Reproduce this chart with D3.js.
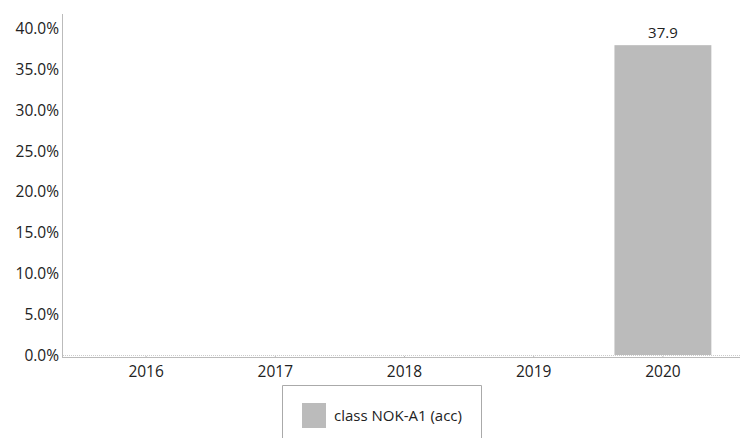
<!DOCTYPE html>
<html><head><meta charset="utf-8">
<script src="https://cdn.jsdelivr.net/npm/d3@7"></script>
<style>body{margin:0;background:#fff}svg{display:block}text{font-family:"Open Sans","Noto Sans",sans-serif;fill:#222}</style>
</head><body><svg id="c" width="742" height="438"></svg>
<script>
const categories = ["2016","2017","2018","2019","2020"];
const values = [null,null,null,null,37.9];
const yTicks = [0,5,10,15,20,25,30,35,40];
const seriesName = "class NOK-A1 (acc)";

const svg = d3.select("#c");
const x = d3.scaleBand().domain(categories).range([81.5,727.5]).paddingInner(0.25).paddingOuter(0.125);
const y = d3.scaleLinear().domain([0,40]).range([355,28]);

// y axis
const ya = svg.append("g").attr("transform","translate(62,0)")
  .call(d3.axisLeft(y).tickValues(yTicks).tickSize(0).tickPadding(3).tickFormat(d=>d.toFixed(1)+"%"));
ya.select(".domain").remove();
ya.selectAll("text").style("font-size","15.5px").attr("fill","#222").attr("dy","0.35em");
svg.append("line").attr("x1",62.5).attr("x2",62.5).attr("y1",14).attr("y2",358).attr("stroke","#bbb");

// zero dotted line
svg.append("line").attr("x1",63).attr("x2",740).attr("y1",y(0)+0.5).attr("y2",y(0)+0.5)
  .attr("stroke","#ccc").attr("stroke-dasharray","1,1");

// bars
const data = categories.map((c,i)=>({c,v:values[i]})).filter(d=>d.v!=null);
svg.selectAll("rect.bar").data(data).join("rect").attr("class","bar")
  .attr("x",d=>x(d.c)).attr("width",x.bandwidth())
  .attr("y",d=>y(d.v)).attr("height",d=>y(0)-y(d.v)).attr("fill","#bbbbbb");
svg.selectAll("text.lbl").data(data).join("text").attr("class","lbl")
  .attr("x",d=>x(d.c)+x.bandwidth()/2).attr("y",d=>y(d.v)-7)
  .attr("text-anchor","middle").style("font-size","15px").text(d=>d.v.toFixed(1));

// x axis
const xa = svg.append("g").attr("transform","translate(0,358)")
  .call(d3.axisBottom(x).tickSize(2).tickPadding(6));
xa.select(".domain").remove();
xa.selectAll("line").attr("stroke","#bbb").attr("transform","translate(0,-2)");
xa.selectAll("text").style("font-size","15.5px").attr("fill","#222");
svg.append("line").attr("x1",62).attr("x2",740).attr("y1",357.5).attr("y2",357.5).attr("stroke","#bbb");

// legend
svg.append("path").attr("d","M282.5,438 V385.5 H481.5 V438").attr("fill","none").attr("stroke","#aaa");
svg.append("rect").attr("x",302).attr("y",403).attr("width",24).attr("height",25).attr("fill","#bbbbbb");
svg.append("text").attr("x",334).attr("y",421).style("font-size","15px").text(seriesName);
</script></body></html>
